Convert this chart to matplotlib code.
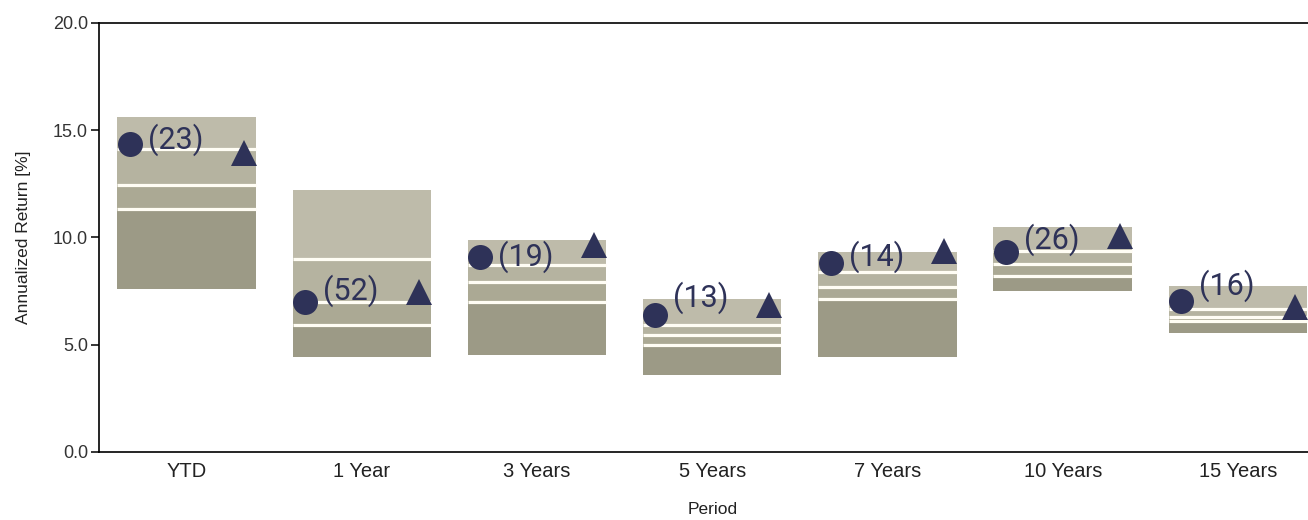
import numpy as np
import matplotlib as mpl
from matplotlib import pyplot as pl

mpl.rcParams.update({
    'font.family': ['Liberation Sans', 'DejaVu Sans'],
    'axes.linewidth': 1.2,
})

# peer universe percentiles (5th, 25th, median, 75th, 95th) per period
periods = ['YTD', '1 Year', '3 Years', '5 Years', '7 Years', '10 Years', '15 Years']
p05 = [15.62, 12.21, 9.88, 7.12, 9.34, 10.50, 7.74]
p25 = [14.13, 9.00, 8.72, 5.92, 8.41, 9.38, 6.65]
p50 = [12.45, 6.99, 7.94, 5.45, 7.71, 8.75, 6.30]
p75 = [11.33, 5.92, 7.01, 4.99, 7.13, 8.20, 6.12]
p95 = [7.60, 4.43, 4.52, 3.59, 4.43, 7.52, 5.57]

# fund (circle) and benchmark (triangle) returns, fund percentile rank
fund = [14.36, 6.99, 9.09, 6.39, 8.80, 9.34, 7.05]
bench = [13.96, 7.46, 9.67, 6.85, 9.39, 10.09, 6.76]
ranks = [23, 52, 19, 13, 14, 26, 16]

# vertical nudge of the rank labels, in pixels
label_dy = [4, 11, 0, 17, 7, 12, 15]

band_colors = ['#bebbaa', '#b5b3a0', '#aba994', '#9c9a86']
mark_color = '#2e3258'
bar_w = 0.79

fig = pl.figure(figsize=(13.08, 5.2), dpi=100)
ax = fig.add_axes([0.0757, 0.1308, 0.9377, 0.825])

x = np.arange(len(periods))
edges = [p05, p25, p50, p75, p95]
for i in range(4):
    top = np.array(edges[i])
    bot = np.array(edges[i + 1])
    ax.bar(x, top - bot, bottom=bot, width=bar_w, color=band_colors[i],
           linewidth=0, zorder=1)

# white separators between the bands
for lev in [p25, p50, p75]:
    ax.hlines(lev, x - bar_w / 2, x + bar_w / 2, color='#fffdf4', linewidth=2.3, zorder=2)

ax.plot(x - 0.325, fund, 'o', color=mark_color, markersize=18, markeredgewidth=0, zorder=3)
ax.plot(x + 0.325, bench, '^', color=mark_color, markersize=18.5, markeredgewidth=0, zorder=3)

for xi, f, r, dy in zip(x, fund, ranks, label_dy):
    ax.annotate('(%d)' % r, xy=(xi - 0.325, f), xytext=(18, dy), textcoords='offset pixels',
                ha='left', va='center', fontsize=22, color=mark_color,
                family=['Roboto', 'DejaVu Sans'], zorder=4)

ax.set_xlim(-0.5, 6.5)
ax.set_ylim(0, 20)
ax.set_yticks([0, 5, 10, 15, 20])
ax.set_yticklabels(['%.1f' % v for v in [0, 5, 10, 15, 20]], fontsize=13, color='#333333')
ax.set_xticks(x)
ax.set_xticklabels(periods, fontsize=14.5, color='#222222')
ax.tick_params(axis='x', length=0, pad=7)
ax.tick_params(axis='y', length=6, width=1.1, pad=2)
ax.spines['right'].set_visible(False)

ax.set_xlabel('Period', fontsize=12.5, color='#222222', labelpad=15)
ax.set_ylabel('Annualized Return [%]', fontsize=12.5, color='#222222', labelpad=16)

fig.savefig('out.png', dpi=100)
